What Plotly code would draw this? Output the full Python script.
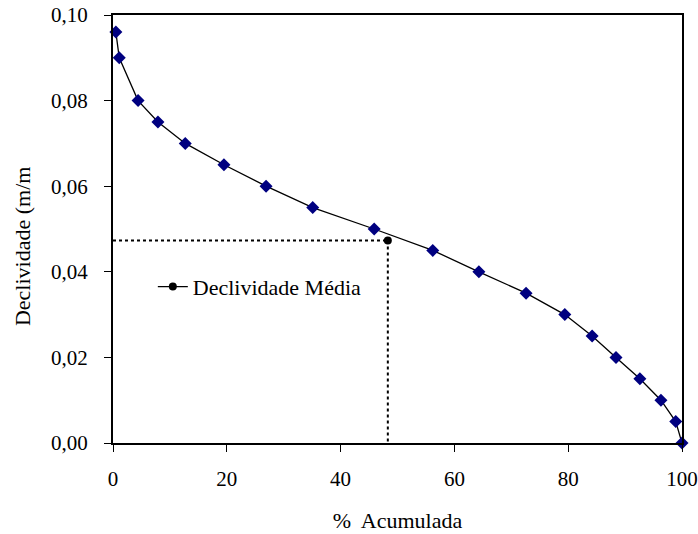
import plotly.graph_objects as go

pct_acum = [0.5, 1.1, 4.4, 7.9, 12.7, 19.5, 26.9, 35.1, 45.9, 56.2, 64.3, 72.6, 79.4, 84.2, 88.4, 92.6, 96.3, 98.9, 100]
declividade = [0.096, 0.090, 0.080, 0.075, 0.070, 0.065, 0.060, 0.055, 0.050, 0.045, 0.040, 0.035, 0.030, 0.025, 0.020, 0.015, 0.010, 0.005, 0.000]
media_x = 48.3
media_y = 0.0473

font = "Liberation Serif, Times New Roman, serif"

fig = go.Figure()
fig.add_trace(go.Scatter(x=pct_acum, y=declividade, mode="lines+markers",
                         line=dict(color="black", width=1.3),
                         marker=dict(symbol="diamond", size=10, color="#000080"),
                         showlegend=False, cliponaxis=False))
fig.add_trace(go.Scatter(x=[0, media_x], y=[media_y, media_y], mode="lines",
                         line=dict(color="black", width=2, dash="3px,3px"),
                         showlegend=False))
fig.add_trace(go.Scatter(x=[media_x, media_x], y=[media_y, 0], mode="lines",
                         line=dict(color="black", width=2, dash="3px,3px"),
                         showlegend=False))
fig.add_trace(go.Scatter(x=[media_x], y=[media_y], mode="lines+markers",
                         name="Declividade Média",
                         line=dict(color="black", width=1.3),
                         marker=dict(symbol="circle", size=8, color="black")))

fig.update_layout(
    width=698, height=534,
    margin=dict(l=113, r=16, t=15, b=91),
    paper_bgcolor="white", plot_bgcolor="white",
    separators=",.",
    font=dict(family=font, size=21, color="black"),
    legend=dict(x=0.07, y=0.365, xanchor="left", yanchor="middle",
                bgcolor="rgba(0,0,0,0)", font=dict(size=22, family=font)),
    xaxis=dict(range=[0, 100], tickvals=[0, 20, 40, 60, 80, 100],
               showline=True, linecolor="black", linewidth=2, mirror=True,
               ticks="outside", ticklen=7, tickcolor="black", showgrid=False, zeroline=False,
               ticklabelstandoff=9, automargin=False,
               title=dict(text="%\u00a0 Acumulada", font=dict(size=22), standoff=22)),
    yaxis=dict(range=[0, 0.10], tickvals=[0, 0.02, 0.04, 0.06, 0.08, 0.10], tickformat=".2f",
               showline=True, linecolor="black", linewidth=2, mirror=True,
               ticks="outside", ticklen=7, tickcolor="black", showgrid=False, zeroline=False,
               ticklabelstandoff=12, automargin=False),
    annotations=[dict(text="Declividade (m/m", textangle=-90, xref="paper", yref="paper",
                      x=-0.158, y=0.458, xanchor="center", yanchor="middle", showarrow=False,
                      font=dict(size=22, family=font))],
)

fig.write_html("out.html")
